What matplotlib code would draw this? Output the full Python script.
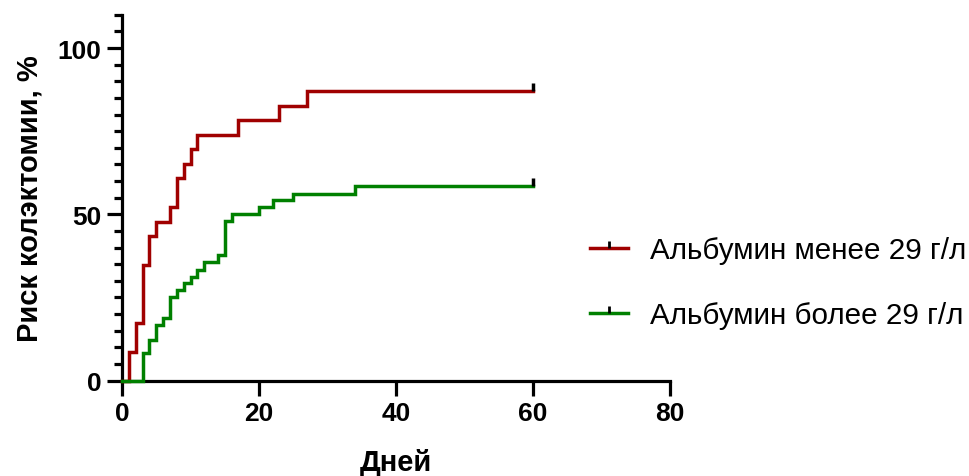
import numpy as np
import matplotlib
matplotlib.use("Agg")
import matplotlib.pyplot as plt
from matplotlib.lines import Line2D
from matplotlib.path import Path
from matplotlib.legend_handler import HandlerTuple

plt.rcParams['font.family'] = ['Liberation Sans', 'DejaVu Sans']

# cumulative colectomy risk
low_days = [0, 1, 2, 3, 4, 5, 7, 8, 9, 10, 11, 17, 23, 27, 60]
low_risk = [0, 8.7, 17.4, 34.8, 43.5, 47.8, 52.2, 60.9, 65.2, 69.6, 73.9, 78.3, 82.6, 87.0, 87.0]

high_days = [0, 3, 4, 5, 6, 7, 8, 9, 10, 11, 12, 14, 15, 16, 20, 22, 25, 34, 60]
high_risk = [0, 8.3, 12.3, 16.6, 18.9, 25.1, 27.3, 29.4, 31.1, 33.3, 35.6, 37.7,
             48.0, 50.2, 52.2, 54.2, 56.2, 58.4, 58.4]

labels = ["Альбумин менее 29 г/л", "Альбумин более 29 г/л"]
colors = ["#A00000", "#008000"]

# censor tick: short vertical stroke pointing up from the line
censor = Path([(0, 0), (0, 1)], [Path.MOVETO, Path.LINETO])

fig = plt.figure(figsize=(9.69, 4.77), dpi=100)
ax = fig.add_axes([0.126, 0.2, 0.565, 0.767])

handles = []
for days, risk, col in [(low_days, low_risk, colors[0]), (high_days, high_risk, colors[1])]:
    ax.step(days, risk, where='post', color=col, lw=2.5, solid_joinstyle='miter', clip_on=False, zorder=3)
    ax.plot(days[-1], risk[-1], ls='none', marker=censor, color='black', ms=12, mew=2.5, clip_on=False, zorder=4)
    handles.append((Line2D([], [], color=col, lw=2.5),
                    Line2D([], [], ls='none', marker=censor, color='black', ms=10, mew=2.0)))

ax.set_xlim(0, 80)
ax.set_ylim(0, 110)
ax.set_xticks([0, 20, 40, 60, 80])
ax.set_yticks([0, 50, 100])
ax.set_yticks(np.arange(0, 111, 5), minor=True)

for side in ['top', 'right']:
    ax.spines[side].set_visible(False)
for side in ['left', 'bottom']:
    ax.spines[side].set_linewidth(2.3)

ax.tick_params(axis='both', which='major', length=11, width=2.3, labelsize=19, pad=4)
ax.tick_params(axis='y', which='minor', length=6, width=2.3)
for lab in ax.get_xticklabels() + ax.get_yticklabels():
    lab.set_fontweight('bold')

ax.set_xlabel("Дней", fontsize=21, fontweight='bold', labelpad=16)
ax.set_ylabel("Риск колэктомии, %", fontsize=21, fontweight='bold', labelpad=10)

ax.legend(handles, labels, handler_map={tuple: HandlerTuple(ndivide=1)},
          loc='center left', bbox_to_anchor=(0.806, 0.268), frameon=False,
          fontsize=21.3, handlelength=1.3, handletextpad=0.72, labelspacing=1.25)

fig.savefig("out.png", dpi=100)
